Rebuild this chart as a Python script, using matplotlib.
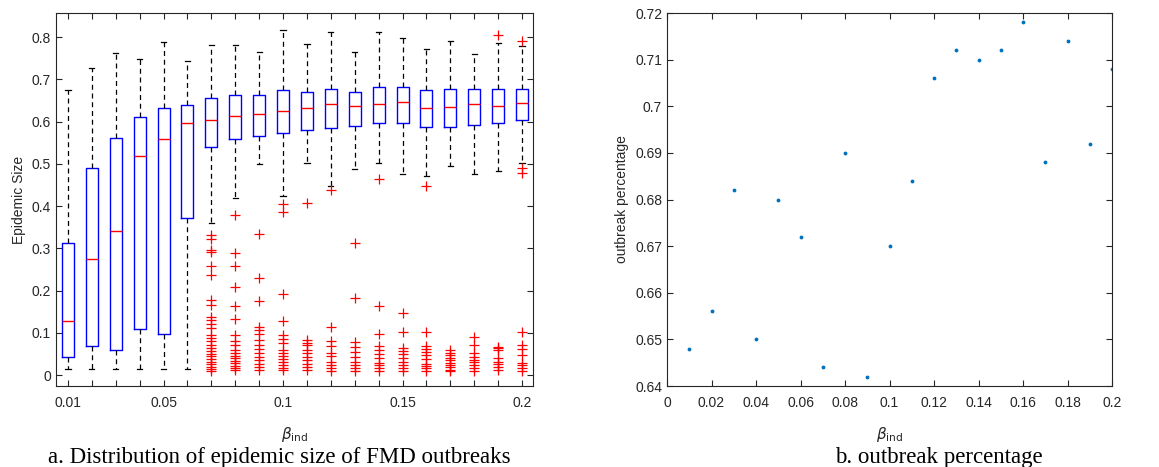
"""Epidemic size boxplots and outbreak percentage vs beta_ind."""

import matplotlib
matplotlib.use("Agg")
import matplotlib.pyplot as plt
from matplotlib.ticker import FuncFormatter

plt.rcParams["font.family"] = ["Liberation Sans", "DejaVu Sans"]

# Panel a: box statistics per beta value
beta_labels = ["0.01", "0.05", "0.1", "0.15", "0.2"]
beta_label_pos = [1, 5, 10, 15, 20]

medians = [0.129, 0.275, 0.341, 0.518, 0.558, 0.596, 0.604, 0.614, 0.618, 0.624,
           0.631, 0.641, 0.637, 0.641, 0.647, 0.631, 0.634, 0.641, 0.637, 0.643]
q1 = [0.042, 0.069, 0.059, 0.110, 0.098, 0.372, 0.539, 0.558, 0.567, 0.574,
      0.581, 0.585, 0.590, 0.596, 0.596, 0.588, 0.588, 0.593, 0.596, 0.604]
q3 = [0.312, 0.491, 0.560, 0.610, 0.631, 0.640, 0.656, 0.663, 0.663, 0.674,
      0.671, 0.676, 0.671, 0.682, 0.682, 0.674, 0.676, 0.676, 0.676, 0.676]
whisk_lo = [0.0135, 0.0135, 0.0135, 0.0135, 0.0135, 0.0135, 0.359, 0.418, 0.499, 0.424,
            0.501, 0.448, 0.488, 0.501, 0.475, 0.471, 0.495, 0.477, 0.484, 0.503]
whisk_hi = [0.675, 0.726, 0.763, 0.749, 0.789, 0.743, 0.781, 0.781, 0.765, 0.817,
            0.783, 0.813, 0.765, 0.813, 0.797, 0.773, 0.790, 0.761, 0.787, 0.780]
outliers = [
    [], [], [], [], [], [],
    [0.331, 0.321, 0.296, 0.291, 0.259, 0.236, 0.178, 0.165, 0.138, 0.130, 0.120,
     0.112, 0.095, 0.087, 0.080, 0.072, 0.064, 0.056, 0.050, 0.044, 0.038, 0.032,
     0.026, 0.020, 0.015, 0.010],
    [0.379, 0.289, 0.259, 0.209, 0.163, 0.133, 0.095, 0.080, 0.071, 0.060, 0.052,
     0.046, 0.040, 0.034, 0.028, 0.022, 0.017, 0.012],
    [0.335, 0.229, 0.176, 0.114, 0.106, 0.098, 0.083, 0.072, 0.061, 0.051, 0.043,
     0.035, 0.027, 0.020, 0.012],
    [0.405, 0.385, 0.193, 0.129, 0.095, 0.085, 0.075, 0.059, 0.053, 0.045, 0.037,
     0.032, 0.024, 0.016, 0.012],
    [0.408, 0.083, 0.077, 0.071, 0.059, 0.051, 0.043, 0.035, 0.027, 0.020, 0.012],
    [0.438, 0.113, 0.081, 0.069, 0.053, 0.045, 0.032, 0.024, 0.016, 0.010],
    [0.312, 0.182, 0.079, 0.067, 0.055, 0.043, 0.032, 0.024, 0.016, 0.010],
    [0.464, 0.163, 0.096, 0.069, 0.059, 0.050, 0.040, 0.029, 0.024, 0.016, 0.010],
    [0.148, 0.102, 0.063, 0.057, 0.050, 0.040, 0.032, 0.024, 0.016, 0.010],
    [0.448, 0.102, 0.069, 0.061, 0.055, 0.047, 0.037, 0.027, 0.021, 0.016, 0.010],
    [0.059, 0.053, 0.047, 0.041, 0.035, 0.029, 0.024, 0.018, 0.013, 0.010],
    [0.091, 0.071, 0.053, 0.043, 0.036, 0.032, 0.024, 0.016, 0.010],
    [0.805, 0.067, 0.063, 0.059, 0.040, 0.032, 0.025, 0.018, 0.012],
    [0.791, 0.491, 0.479, 0.103, 0.071, 0.061, 0.047, 0.029, 0.024, 0.016, 0.010],
]

# Panel b: outbreak percentage
beta_b = [0.01, 0.02, 0.03, 0.04, 0.05, 0.06, 0.07, 0.08, 0.09, 0.10,
          0.11, 0.12, 0.13, 0.14, 0.15, 0.16, 0.17, 0.18, 0.19, 0.20]
outbreak_pct = [0.648, 0.656, 0.682, 0.650, 0.680, 0.672, 0.644, 0.690, 0.642, 0.670,
                0.684, 0.706, 0.712, 0.710, 0.712, 0.718, 0.688, 0.714, 0.692, 0.708]

text_col = "#262626"
fig = plt.figure(figsize=(11.59, 4.67), dpi=100)
ax1 = fig.add_axes([0.0483, 0.1734, 0.4116, 0.7987])
ax2 = fig.add_axes([0.5755, 0.1734, 0.3840, 0.7987])

stats = []
for i in range(len(medians)):
    stats.append({
        "med": medians[i], "q1": q1[i], "q3": q3[i],
        "whislo": whisk_lo[i], "whishi": whisk_hi[i], "fliers": outliers[i],
    })
positions = list(range(1, len(stats) + 1))
ax1.bxp(
    stats, positions=positions, widths=0.5, capwidths=0.22,
    boxprops=dict(color="blue", linewidth=1.0),
    medianprops=dict(color="red", linewidth=1.0),
    whiskerprops=dict(color="black", linewidth=0.9, linestyle=(0, (4, 3))),
    capprops=dict(color="black", linewidth=0.9),
    flierprops=dict(marker="+", markeredgecolor="red", markersize=7,
                    markeredgewidth=0.9, linestyle="none"),
)
ax1.set_xlim(0.5, 20.46)
ax1.set_ylim(-0.026, 0.857)
ax1.set_xticks(positions)
ax1.set_xticklabels([beta_labels[beta_label_pos.index(p)] if p in beta_label_pos else ""
                     for p in positions])
ax1.set_yticks([0, 0.1, 0.2, 0.3, 0.4, 0.5, 0.6, 0.7, 0.8])
ax1.yaxis.set_major_formatter(FuncFormatter(lambda v, p: f"{v:g}"))
ax1.set_ylabel("Epidemic Size", fontsize=10, color=text_col)
ax1.set_xlabel(r"$\beta_{\mathrm{ind}}$", fontsize=11, color=text_col, labelpad=11)

ax2.plot(beta_b, outbreak_pct, linestyle="none", marker=".", markersize=3.5,
         color="#0072BD")
ax2.set_xlim(0, 0.2)
ax2.set_ylim(0.64, 0.72)
ax2.set_xticks([0, 0.02, 0.04, 0.06, 0.08, 0.1, 0.12, 0.14, 0.16, 0.18, 0.2])
ax2.set_yticks([0.64, 0.65, 0.66, 0.67, 0.68, 0.69, 0.7, 0.71, 0.72])
fmt = FuncFormatter(lambda v, p: f"{v:.2f}".rstrip("0").rstrip(".") if v != 0 else "0")
ax2.xaxis.set_major_formatter(fmt)
ax2.yaxis.set_major_formatter(fmt)
ax2.set_ylabel("outbreak percentage", fontsize=10, color=text_col)
ax2.set_xlabel(r"$\beta_{\mathrm{ind}}$", fontsize=11, color=text_col, labelpad=11)

for ax in (ax1, ax2):
    ax.tick_params(direction="in", top=True, right=True, length=4, width=0.8,
                   labelsize=10, labelcolor=text_col, color=text_col)
    ax.tick_params(axis="x", pad=7)
    for s in ax.spines.values():
        s.set_linewidth(0.8)
        s.set_color(text_col)

fig.text(0.2407, 0.009, "a. Distribution of epidemic size of FMD outbreaks",
         ha="center", va="baseline", family="Liberation Serif", fontsize=16.5)
fig.text(0.810, 0.009, "b. outbreak percentage",
         ha="center", va="baseline", family="Liberation Serif", fontsize=16.5)

fig.savefig("out.png", dpi=100)
